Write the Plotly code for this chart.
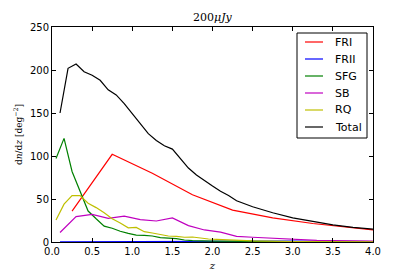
import plotly.graph_objects as go

# FRI
z_fri = [0.25, 0.75, 1.25, 1.75, 2.25, 2.75, 3.25, 3.75, 4.0]
n_fri = [36, 102, 80, 55, 37, 28, 21.5, 16.5, 14]
# FRII
z_frii = [0.1, 0.5, 1.0, 1.5, 2.0, 2.5, 3.0, 3.5, 4.0]
n_frii = [0.2, 0.3, 0.6, 1.0, 1.3, 1.2, 1.0, 0.8, 0.6]
# SFG
z_sfg = [0.05, 0.15, 0.25, 0.35, 0.45, 0.55, 0.65, 0.75, 0.85, 0.95, 1.05, 1.15,
         1.25, 1.35, 1.45, 1.55, 1.65, 1.75, 2.0, 2.5, 3.0, 3.5, 4.0]
n_sfg = [97, 120.5, 82, 58, 36, 27, 18.5, 16, 12.5, 10, 8, 7.7,
         7, 5, 4.5, 4, 2.3, 1.5, 1.0, 0.5, 0.3, 0.2, 0.2]
# SB
z_sb = [0.1, 0.3, 0.5, 0.7, 0.9, 1.1, 1.3, 1.5, 1.7, 1.9, 2.1, 2.3, 2.5, 2.7,
        2.9, 3.1, 3.3, 3.5, 3.7, 3.9, 4.0]
n_sb = [11, 29.5, 32, 27.5, 30, 26, 24.4, 28, 19, 14, 11.5, 6.5, 5.5, 4.5,
        3.5, 2.7, 2.0, 1.6, 1.3, 1.0, 1.0]
# RQ
z_rq = [0.05, 0.15, 0.25, 0.35, 0.45, 0.55, 0.65, 0.75, 0.85, 0.95, 1.05, 1.15,
        1.25, 1.35, 1.45, 1.55, 1.65, 1.75, 1.85, 1.95, 2.05, 2.25, 2.5, 3.0, 3.5, 4.0]
n_rq = [25.6, 44, 54, 54, 45, 40, 34, 27, 22, 16.5, 17, 12,
        10.5, 8.5, 7, 6.5, 5.5, 5.8, 4.5, 3.5, 3, 2, 1.2, 0.6, 0.3, 0.2]
# Total
z_tot = [0.1, 0.2, 0.3, 0.4, 0.5, 0.6, 0.7, 0.8, 0.9, 1.0, 1.1, 1.2, 1.3, 1.4, 1.5,
         1.6, 1.7, 1.8, 1.9, 2.0, 2.1, 2.2, 2.3, 2.5, 2.75, 3.0, 3.25, 3.5, 3.75, 4.0]
n_tot = [150, 202, 207, 198, 194, 188, 177, 171, 161, 149, 137, 126, 118, 112, 108,
         97, 86, 78, 71, 65, 59, 54, 48, 41, 34, 28, 24, 20, 17, 15]

series = [
    ("FRI", z_fri, n_fri, "#ff0000"),
    ("FRII", z_frii, n_frii, "#0000ff"),
    ("SFG", z_sfg, n_sfg, "#008000"),
    ("SB", z_sb, n_sb, "#bf00bf"),
    ("RQ", z_rq, n_rq, "#bfbf00"),
    ("Total", z_tot, n_tot, "#000000"),
]

x_ticks = [0.0, 0.5, 1.0, 1.5, 2.0, 2.5, 3.0, 3.5, 4.0]
x_tick_labels = ["0.0", "0.5", "1.0", "1.5", "2.0", "2.5", "3.0", "3.5", "4.0"]
y_ticks = [0, 50, 100, 150, 200, 250]

W, H = 415, 277
ML, MR, MT, MB = 52, 42, 27, 35
PW, PH = W - ML - MR, H - MT - MB


def px2paper_x(px):
    return (px - ML) / PW


def px2paper_y(py):
    return (H - MB - py) / PH


fig = go.Figure()
for name, zs, ns, col in series:
    fig.add_trace(go.Scatter(x=zs, y=ns, mode="lines", name=name, showlegend=False,
                             line=dict(color=col, width=1.2)))

axis_common = dict(showline=True, linecolor="black", linewidth=1, mirror="allticks",
                   ticks="inside", ticklen=4, tickcolor="black", showgrid=False,
                   zeroline=False, automargin=False,
                   tickfont=dict(family="DejaVu Sans", size=10, color="black"))

fig.update_layout(
    width=W, height=H,
    margin=dict(l=ML, r=MR, t=MT, b=MB, autoexpand=False),
    paper_bgcolor="white", plot_bgcolor="white",
    xaxis=dict(range=[0, 4], tickvals=x_ticks, ticktext=x_tick_labels,
               title=dict(text="<i>z</i>", standoff=5,
                          font=dict(family="DejaVu Serif", size=10, color="black")),
               **axis_common),
    yaxis=dict(range=[0, 250], tickvals=y_ticks,
               title=dict(text="d<i>n</i>/d<i>z</i> [deg<sup>−2</sup>]", standoff=5,
                          font=dict(family="DejaVu Serif", size=9, color="black")),
               **axis_common),
    showlegend=False,
)

# title
fig.add_annotation(text="200<i>μJy</i>", xref="paper", yref="paper", x=0.5, y=1,
                   xanchor="center", yanchor="bottom", yshift=1, showarrow=False,
                   font=dict(family="DejaVu Serif", size=11, color="black"))

# legend box (matplotlib-style)
box_l, box_r, box_t, box_b = 297, 367, 33, 138
fig.add_shape(type="rect", xref="paper", yref="paper",
              x0=px2paper_x(box_l), x1=px2paper_x(box_r),
              y0=px2paper_y(box_b), y1=px2paper_y(box_t),
              line=dict(color="black", width=1), fillcolor="white", layer="above")
for i, (name, _, _, col) in enumerate(series):
    yc = 42 + 17 * i
    fig.add_shape(type="line", xref="paper", yref="paper",
                  x0=px2paper_x(305), x1=px2paper_x(323),
                  y0=px2paper_y(yc), y1=px2paper_y(yc),
                  line=dict(color=col, width=1.2), layer="above")
    fig.add_annotation(text=name, xref="paper", yref="paper",
                       x=px2paper_x(333), y=px2paper_y(yc),
                       xanchor="left", yanchor="middle", showarrow=False,
                       font=dict(family="DejaVu Sans", size=11, color="black"))

fig.write_html("out.html", config={"displayModeBar": False},
               post_script="document.body.style.margin='0';")
